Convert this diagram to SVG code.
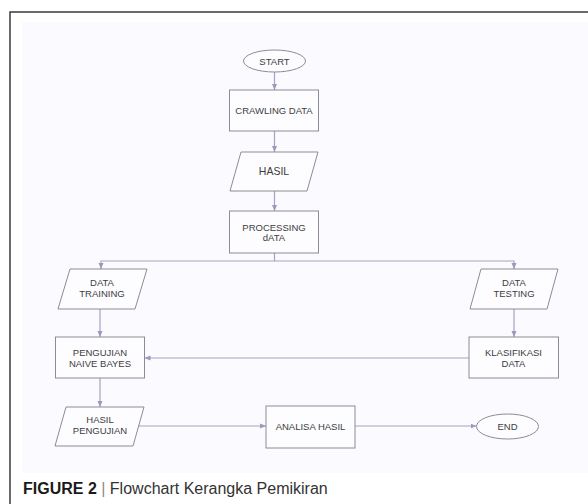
<svg xmlns="http://www.w3.org/2000/svg" width="588" height="504" viewBox="0 0 588 504">
<style>
.node{fill:#fdfcff;stroke:#8c8c96;stroke-width:1}
.lbl{font-family:"Liberation Sans",Arial,sans-serif;font-size:9.5px;fill:#3c3c3c;text-anchor:middle}
.conn{fill:none;stroke:#a4a4c4;stroke-width:1.2}
</style>
<defs>
<marker id="arr" markerWidth="6" markerHeight="6" refX="6" refY="3" orient="auto" markerUnits="userSpaceOnUse">
<path d="M0,0.5 L6,3 L0,5.5 z" fill="#9a9abc"/>
</marker>
</defs>
<rect x="0" y="0" width="588" height="504" fill="#ffffff"/>
<rect x="10" y="12" width="600" height="520" fill="#ffffff" stroke="#3a3a3a" stroke-width="1.5"/>
<rect x="22" y="22" width="570" height="451" fill="#fbfaff"/>

<g id="connectors">
<path class="conn" d="M274.5 72 V90" marker-end="url(#arr)"/>
<path class="conn" d="M274.5 131 V152" marker-end="url(#arr)"/>
<path class="conn" d="M274.5 191 V211" marker-end="url(#arr)"/>
<path class="conn" d="M274.5 253 V261 H101 V269" marker-end="url(#arr)"/>
<path class="conn" d="M274.5 261 H514 V269" marker-end="url(#arr)"/>
<path class="conn" d="M100 309 V337" marker-end="url(#arr)"/>
<path class="conn" d="M514 309 V337" marker-end="url(#arr)"/>
<path class="conn" d="M469 358 H144.5" marker-end="url(#arr)"/>
<path class="conn" d="M100 378 V407" marker-end="url(#arr)"/>
<path class="conn" d="M139 426 H266" marker-end="url(#arr)"/>
<path class="conn" d="M355 426 H476.5" marker-end="url(#arr)"/>
</g>

<g id="start">
<ellipse class="node" cx="274.5" cy="61" rx="31" ry="11"/>
<text class="lbl" x="274.5" y="64.5">START</text>
</g>
<g id="crawling">
<rect class="node" x="229.5" y="90" width="89" height="41"/>
<text class="lbl" x="274" y="114">CRAWLING DATA</text>
</g>
<g id="hasil">
<polygon class="node" points="241,152 318,152 307,191 230,191"/>
<text class="lbl" x="274" y="175" style="font-size:10.5px">HASIL</text>
</g>
<g id="processing">
<rect class="node" x="229.5" y="211" width="89" height="42"/>
<text class="lbl" x="274" y="230.5">PROCESSING</text>
<text class="lbl" x="274" y="241">dATA</text>
</g>
<g id="data-training">
<polygon class="node" points="70,269 147,269 135,309 58,309"/>
<text class="lbl" x="102" y="285.5">DATA</text>
<text class="lbl" x="102" y="296.5">TRAINING</text>
</g>
<g id="data-testing">
<polygon class="node" points="481,269 558,269 547,309 470,309"/>
<text class="lbl" x="514" y="285.5">DATA</text>
<text class="lbl" x="514" y="296.5">TESTING</text>
</g>
<g id="pengujian">
<rect class="node" x="55.5" y="337" width="89" height="41"/>
<text class="lbl" x="100" y="356">PENGUJIAN</text>
<text class="lbl" x="100" y="367">NAIVE BAYES</text>
</g>
<g id="klasifikasi">
<rect class="node" x="469" y="337" width="89.5" height="41"/>
<text class="lbl" x="513.5" y="356">KLASIFIKASI</text>
<text class="lbl" x="513.5" y="367">DATA</text>
</g>
<g id="hasil-pengujian">
<polygon class="node" points="66,407 144,407 133,446 55,446"/>
<text class="lbl" x="100" y="422.5">HASIL</text>
<text class="lbl" x="100" y="434">PENGUJIAN</text>
</g>
<g id="analisa">
<rect class="node" x="266" y="406" width="89" height="42"/>
<text class="lbl" x="310.5" y="429.5">ANALISA HASIL</text>
</g>
<g id="end">
<ellipse class="node" cx="507.5" cy="426.5" rx="31" ry="12.5"/>
<text class="lbl" x="507.5" y="430">END</text>
</g>

<text x="23" y="494" style="font-family:'Liberation Sans',Arial,sans-serif;font-size:16px;fill:#1a1a1a"><tspan font-weight="bold">FIGURE 2</tspan><tspan fill="#888888"> | </tspan><tspan fill="#333333">Flowchart Kerangka Pemikiran</tspan></text>
</svg>
